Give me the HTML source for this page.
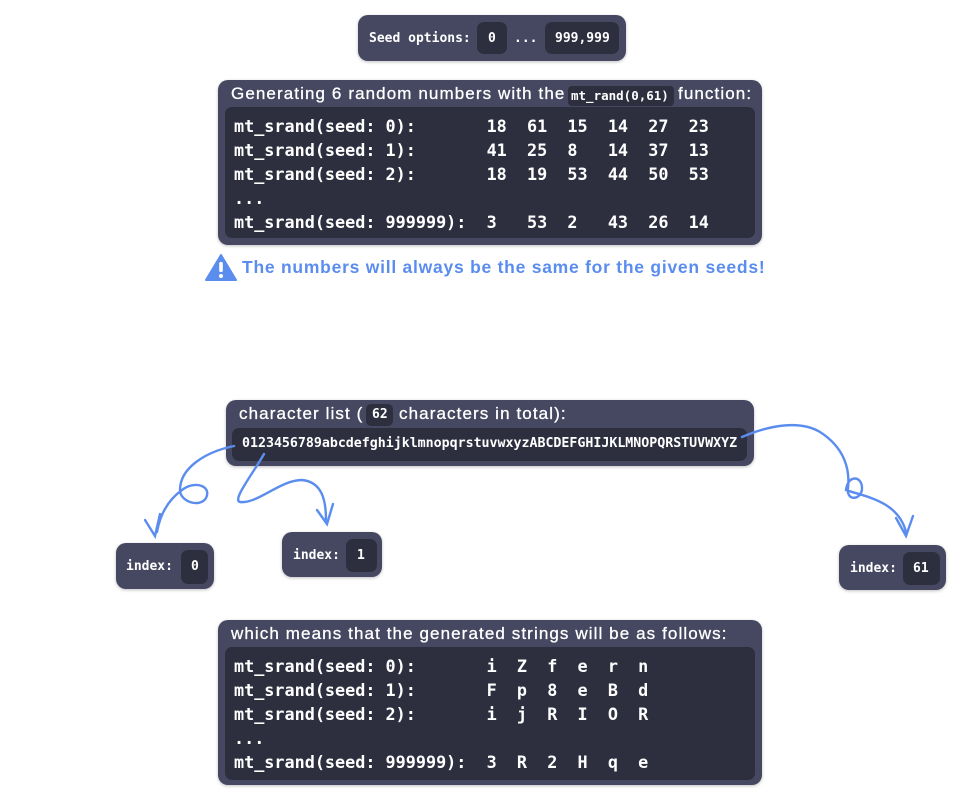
<!DOCTYPE html>
<html><head><style>
body{margin:0;width:980px;height:800px;background:#fff;position:relative;font-family:"Liberation Sans",sans-serif;overflow:hidden}
.o{position:absolute;background:#454860;border-radius:10px;box-shadow:0 1px 3px rgba(0,0,0,.25)}
.i{position:absolute;background:#2d2f3f;border-radius:7px}
.h{position:absolute;color:#fff;font-size:17px;letter-spacing:1.1px;white-space:nowrap;-webkit-text-stroke:0.3px #fff}
.m{font-family:"DejaVu Sans Mono","Liberation Mono",monospace;font-weight:bold;color:#fff;white-space:pre;position:absolute}
.code{font-size:16.8px;line-height:24px}
.t{font-size:13px}
</style></head><body>

<div class="o" style="left:358px;top:15px;width:268px;height:46px"></div>
<div class="m t" style="left:369px;top:31px">Seed options:</div>
<div class="i" style="left:477px;top:22px;width:30px;height:32px"></div>
<div class="m t" style="left:488px;top:31px">0</div>
<div class="m t" style="left:514px;top:31px">...</div>
<div class="i" style="left:545px;top:22px;width:74px;height:32px"></div>
<div class="m t" style="left:555px;top:31px">999,999</div>

<div class="o" style="left:218px;top:80px;width:544px;height:165px"></div>
<div class="h" style="left:231px;top:84px">Generating 6 random numbers with the</div>
<div class="i" style="left:568px;top:86px;width:106px;height:20px;border-radius:4px"></div>
<div class="m" style="left:571px;top:88px;font-size:12.5px">mt_rand(0,61)</div>
<div class="h" style="left:678px;top:84px">function:</div>
<div class="i" style="left:225px;top:107px;width:530px;height:131px"></div>
<div class="m code" style="left:234px;top:114px">mt_srand(seed: 0):       18  61  15  14  27  23
mt_srand(seed: 1):       41  25  8   14  37  13
mt_srand(seed: 2):       18  19  53  44  50  53
...
mt_srand(seed: 999999):  3   53  2   43  26  14</div>

<svg style="position:absolute;left:205px;top:253px" width="32" height="28"><path d="M16 2 L31 27 L1 27 Z" fill="#5b8def" stroke="#5b8def" stroke-width="2" stroke-linejoin="round"/><rect x="14.2" y="9" width="3.6" height="10" rx="1.5" fill="#fff"/><circle cx="16" cy="23" r="2" fill="#fff"/></svg>
<div style="position:absolute;left:242px;top:257px;color:#5b8def;font-weight:bold;font-size:17.5px;letter-spacing:0.75px;white-space:nowrap">The numbers will always be the same for the given seeds!</div>

<div class="o" style="left:226px;top:400px;width:528px;height:66px"></div>
<div class="h" style="left:239px;top:404px">character list (</div>
<div class="i" style="left:366px;top:404px;width:27px;height:22px;border-radius:5px"></div>
<div class="m t" style="left:372px;top:407px">62</div>
<div class="h" style="left:399px;top:404px">characters in total):</div>
<div class="i" style="left:232px;top:428px;width:515px;height:33px"></div>
<div class="m" style="left:242px;top:436px;font-size:13.3px;letter-spacing:-0.02px">0123456789abcdefghijklmnopqrstuvwxyzABCDEFGHIJKLMNOPQRSTUVWXYZ</div>

<svg style="position:absolute;left:0;top:0" width="980" height="800" fill="none" stroke="#5b8def" stroke-width="2.4" stroke-linecap="round">
<path d="M234 446 C205 452 180 468 180 490 C180 502 200 508 206 498 C212 486 195 480 182 490 C168 500 160 515 157 532"/>
<path d="M145 520 L155 536 L160 514"/>
<path d="M264 454 C252 475 232 500 240 502 C258 504 280 480 302 480 C322 482 326 500 326 520"/>
<path d="M317 510 L327 524 L333 504"/>
<path d="M742 437 C770 425 800 420 820 432 C845 448 850 470 848 488 C846 502 862 500 862 488 C862 476 848 474 846 490 C862 496 898 500 906 532"/>
<path d="M896 518 L906 536 L913 516"/>
</svg>

<div class="o" style="left:116px;top:543px;width:98px;height:46px"></div>
<div class="m t" style="left:126px;top:559px">index:</div>
<div class="i" style="left:181px;top:550px;width:27px;height:34px"></div>
<div class="m t" style="left:191px;top:559px">0</div>

<div class="o" style="left:282px;top:532px;width:100px;height:45px"></div>
<div class="m t" style="left:293px;top:548px">index:</div>
<div class="i" style="left:346px;top:539px;width:31px;height:33px"></div>
<div class="m t" style="left:357px;top:548px">1</div>

<div class="o" style="left:839px;top:545px;width:107px;height:45px"></div>
<div class="m t" style="left:850px;top:561px">index:</div>
<div class="i" style="left:903px;top:552px;width:37px;height:33px"></div>
<div class="m t" style="left:913px;top:561px">61</div>

<div class="o" style="left:218px;top:620px;width:544px;height:165px"></div>
<div class="h" style="left:231px;top:624px">which means that the generated strings will be as follows:</div>
<div class="i" style="left:225px;top:647px;width:530px;height:133px"></div>
<div class="m code" style="left:234px;top:654px">mt_srand(seed: 0):       i  Z  f  e  r  n
mt_srand(seed: 1):       F  p  8  e  B  d
mt_srand(seed: 2):       i  j  R  I  O  R
...
mt_srand(seed: 999999):  3  R  2  H  q  e</div>
</body></html>
